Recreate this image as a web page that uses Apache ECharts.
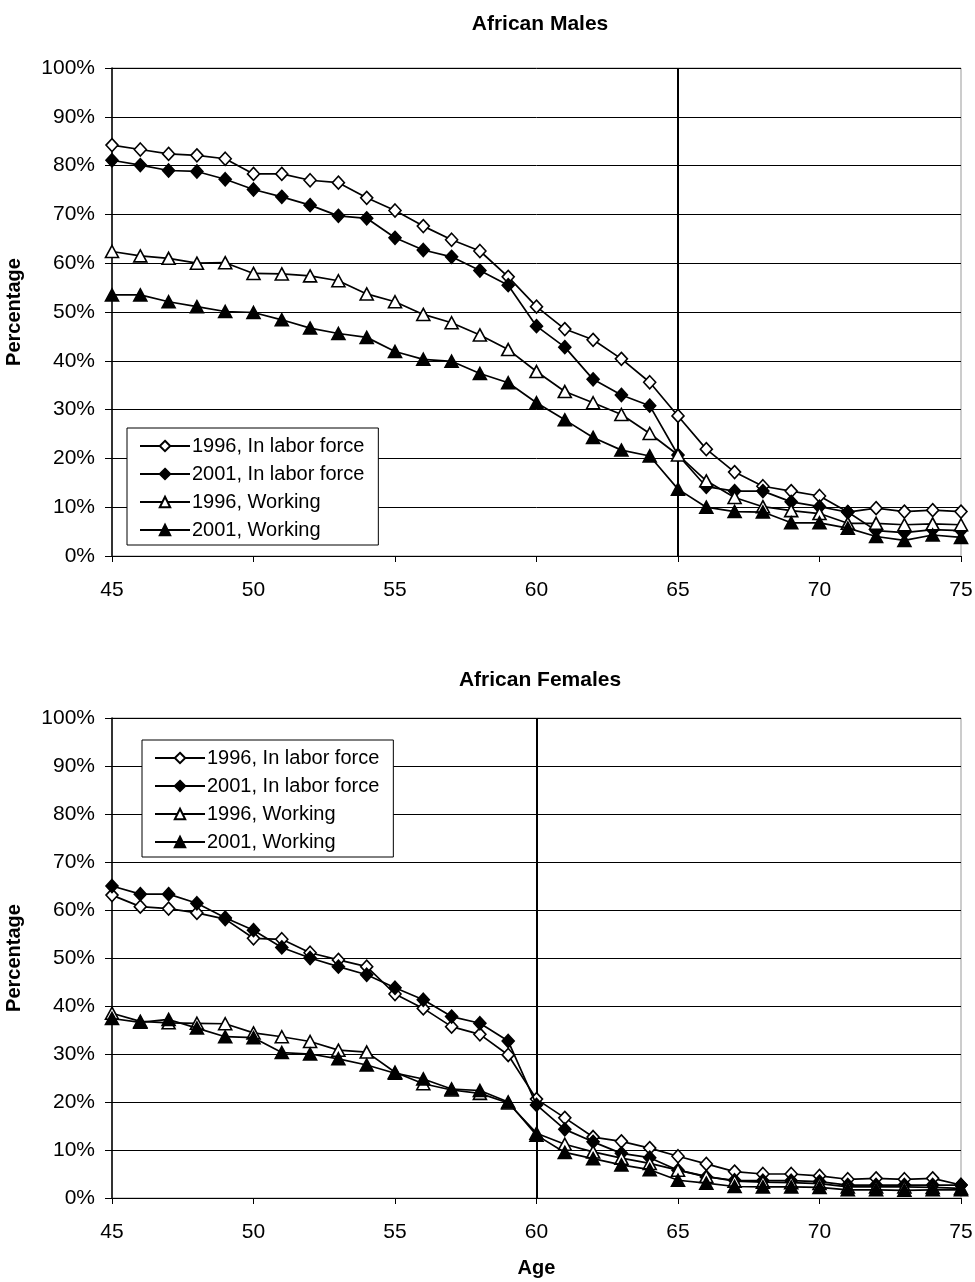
<!DOCTYPE html>
<html>
<head>
<meta charset="utf-8">
<script src="https://cdn.jsdelivr.net/npm/echarts@6/dist/echarts.min.js"></script>
<style>
  html, body { margin: 0; padding: 0; background: #fff; }
  #chart { width: 975px; height: 1282px; }
</style>
</head>
<body>
<div id="chart"></div>
<script>
// Ages on the horizontal axis
const ages = [45,46,47,48,49,50,51,52,53,54,55,56,57,58,59,60,61,62,63,64,65,66,67,68,69,70,71,72,73,74,75];

const seriesNames = ['1996, In labor force', '2001, In labor force', '1996, Working', '2001, Working'];

// African males (percent)
const male1996Labor = [84.2,83.3,82.4,82.1,81.4,78.3,78.3,77.0,76.5,73.4,70.8,67.6,64.8,62.5,57.2,51.1,46.5,44.3,40.4,35.6,28.7,21.9,17.2,14.3,13.3,12.3,9.0,9.8,9.1,9.4,9.1];
const male2001Labor = [81.1,80.1,79.0,78.8,77.2,75.1,73.6,71.9,69.7,69.2,65.2,62.7,61.3,58.5,55.5,47.1,42.8,36.2,33.0,30.8,20.7,14.2,13.3,13.3,11.1,10.1,9.0,5.2,4.8,5.4,5.2];
const male1996Work  = [62.4,61.5,61.0,60.0,60.1,57.9,57.8,57.4,56.4,53.7,52.1,49.5,47.8,45.3,42.3,37.8,33.7,31.4,29.0,25.1,20.7,15.4,12.0,10.1,9.3,8.7,6.7,6.7,6.4,6.6,6.4];
const male2001Work  = [53.5,53.5,52.1,51.1,50.1,49.9,48.4,46.7,45.6,44.8,41.9,40.3,39.9,37.4,35.5,31.4,27.9,24.3,21.7,20.5,13.7,10.0,9.1,9.0,6.8,6.8,5.7,4.0,3.2,4.3,3.8];

// African females (percent)
const female1996Labor = [63.1,60.7,60.3,59.4,58.1,54.1,53.9,51.1,49.6,48.2,42.5,39.5,35.7,34.1,29.8,20.6,16.7,12.7,11.8,10.4,8.7,7.1,5.5,5.0,5.0,4.6,3.9,4.1,3.9,4.1,2.7];
const female2001Labor = [65.0,63.3,63.3,61.4,58.4,55.8,52.2,50.0,48.2,46.5,43.8,41.3,37.8,36.4,32.7,19.4,14.3,11.7,9.3,8.4,5.8,4.4,3.7,3.6,3.6,3.4,2.7,2.7,2.7,2.7,2.7];
const female1996Work  = [38.5,36.8,36.5,36.4,36.3,34.4,33.6,32.6,30.8,30.4,26.2,23.8,22.5,21.8,19.8,13.5,11.2,9.6,8.3,7.2,5.8,4.5,3.5,3.3,3.2,3.0,2.3,2.3,2.3,2.2,2.0];
const female2001Work  = [37.4,36.6,37.2,35.4,33.6,33.4,30.3,30.0,29.0,27.7,26.0,24.8,22.7,22.4,20.0,13.1,9.5,8.2,6.9,5.9,3.7,3.1,2.4,2.3,2.3,2.2,1.7,1.7,1.6,1.7,1.7];

// Pension-age reference lines
const maleCutoff = 65;
const femaleCutoff = 60;

const xTicks = [45, 75, 5];   // min, max, step
const yTicks = [0, 100, 10];

const FONT = 'Liberation Sans, Arial, sans-serif';

const markerStyles = [
  { symbol: 'diamond',  size: [12, 13], fill: '#ffffff' },
  { symbol: 'diamond',  size: [12, 13], fill: '#000000' },
  { symbol: 'triangle', size: [13, 12], fill: '#ffffff' },
  { symbol: 'triangle', size: [13, 12], fill: '#000000' }
];

function pairs(values) {
  return ages.map((a, i) => [a, values[i]]);
}

function buildSeries(gridIdx, lists, cutoff) {
  return lists.map((vals, k) => {
    const m = markerStyles[k];
    const s = {
      name: seriesNames[k],
      type: 'line',
      xAxisIndex: gridIdx,
      yAxisIndex: gridIdx,
      data: pairs(vals),
      symbol: m.symbol,
      symbolSize: m.size,
      showAllSymbol: true,
      z: 3 + k,
      lineStyle: { color: '#000', width: 1.7 },
      itemStyle: { color: m.fill, borderColor: '#000', borderWidth: 1.6 },
      emphasis: { disabled: true },
      animation: false
    };
    if (k === 0) {
      s.markLine = {
        silent: true,
        symbol: ['none', 'none'],
        label: { show: false },
        lineStyle: { color: '#000', width: 2, type: 'solid' },
        data: [{ xAxis: cutoff }],
        z: 2
      };
    }
    return s;
  });
}

function xAxisFor(gridIdx, withName) {
  const ax = {
    type: 'value',
    gridIndex: gridIdx,
    min: xTicks[0], max: xTicks[1], interval: xTicks[2],
    axisLine: { lineStyle: { color: '#000', width: 1.2 } },
    axisTick: { show: true, inside: false, length: 6, lineStyle: { color: '#000' } },
    axisLabel: { color: '#000', fontFamily: FONT, fontSize: 21, margin: 24 },
    splitLine: { show: false }
  };
  if (withName) {
    ax.name = 'Age';
    ax.nameLocation = 'middle';
    ax.nameGap = 60;
    ax.nameTextStyle = { color: '#000', fontFamily: FONT, fontSize: 20, fontWeight: 'bold' };
  }
  return ax;
}

function yAxisFor(gridIdx) {
  return {
    type: 'value',
    gridIndex: gridIdx,
    min: yTicks[0], max: yTicks[1], interval: yTicks[2],
    name: 'Percentage',
    nameLocation: 'middle',
    nameGap: 88,
    nameTextStyle: { color: '#000', fontFamily: FONT, fontSize: 20, fontWeight: 'bold' },
    axisLine: { show: true, lineStyle: { color: '#000', width: 1.5 } },
    axisTick: { show: true, inside: false, length: 7, lineStyle: { color: '#000' } },
    axisLabel: { color: '#000', fontFamily: FONT, fontSize: 21, margin: 17, formatter: '{value}%' },
    splitLine: { show: true, lineStyle: { color: '#000', width: 1 } }
  };
}

function legendFor(pos) {
  return {
    data: seriesNames,
    orient: 'vertical',
    left: pos.left, top: pos.top,
    itemWidth: 50, itemHeight: 13,
    itemGap: 8,
    padding: [8, 14, 5, 12],
    backgroundColor: '#fff',
    borderColor: '#000', borderWidth: 1,
    textStyle: { color: '#000', fontFamily: FONT, fontSize: 20, padding: [0, 0, 0, -3] },
    selectedMode: false
  };
}

const chart = echarts.init(document.getElementById('chart'), null, { renderer: 'canvas' });

const gridBase = {
  left: 112, right: 14, show: true,
  borderColor: '#999', borderWidth: 1, backgroundColor: 'transparent',
  containLabel: false, outerBoundsMode: 'none'
};

chart.setOption({
  backgroundColor: '#fff',
  animation: false,
  title: [
    { text: 'African Males', left: 535, top: 9, textAlign: 'center',
      textStyle: { fontFamily: FONT, fontSize: 21, fontWeight: 'bold', color: '#000' } },
    { text: 'African Females', left: 535, top: 665, textAlign: 'center',
      textStyle: { fontFamily: FONT, fontSize: 21, fontWeight: 'bold', color: '#000' } }
  ],
  grid: [
    Object.assign({}, gridBase, { top: 68, height: 488 }),
    Object.assign({}, gridBase, { top: 718, height: 480 })
  ],
  legend: [
    legendFor({ left: 127, top: 428 }),
    legendFor({ left: 142, top: 740 })
  ],
  xAxis: [xAxisFor(0, false), xAxisFor(1, true)],
  yAxis: [yAxisFor(0), yAxisFor(1)],
  series: [
    ...buildSeries(0, [male1996Labor, male2001Labor, male1996Work, male2001Work], maleCutoff),
    ...buildSeries(1, [female1996Labor, female2001Labor, female1996Work, female2001Work], femaleCutoff)
  ]
});
</script>
</body>
</html>
